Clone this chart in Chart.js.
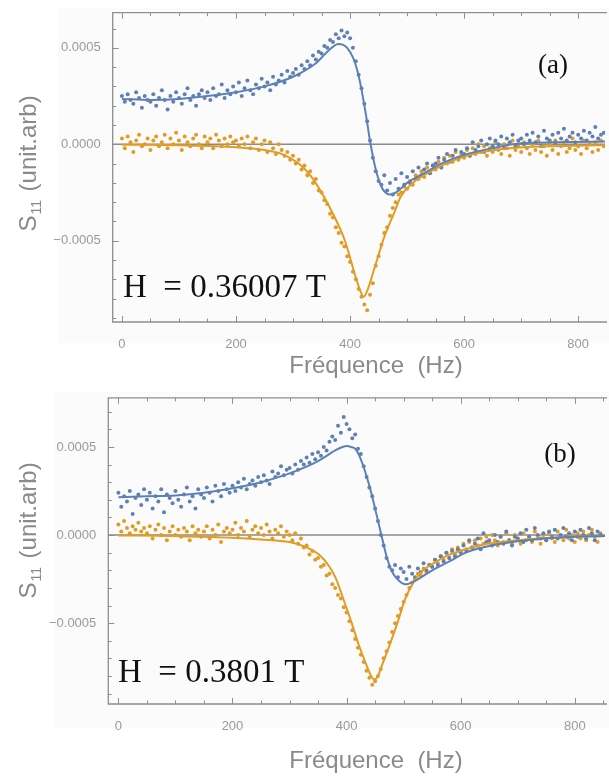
<!DOCTYPE html>
<html>
<head>
<meta charset="utf-8">
<script src="https://cdn.jsdelivr.net/npm/chart.js@4"></script>
<style>
  body { margin: 0; background: #fff; width: 609px; height: 778px; position: relative; overflow: hidden; }
  .box { position: absolute; background: #fbfbfb; }
  .wrap { position: absolute; left: 0; width: 609px; }
</style>
</head>
<body>
<div class="box" style="left:58px;top:8px;width:551px;height:335px"></div>
<div class="box" style="left:54px;top:392px;width:555px;height:336px"></div>
<div class="wrap" style="top:0;height:390px"><canvas id="chartA"></canvas></div>
<div class="wrap" style="top:386px;height:392px"><canvas id="chartB"></canvas></div>
<script>
// S11 values are written in units of 1e-4
const UNIT = 1e-4;

// frequency sweep (Hz) shared by the measured points
const freq = [
  0,5,10,15,20,25,30,35,40,45, 50,55,60,65,70,75,80,85,90,95,
  100,105,110,115,120,125,130,135,140,145, 150,155,160,165,170,175,180,185,190,195,
  200,205,210,215,220,225,230,235,240,245, 250,255,260,265,270,275,280,285,290,295,
  300,305,310,315,320,325,330,335,340,345, 350,355,360,365,370,375,380,385,390,395,
  400,405,410,415,420,425,430,435,440,445, 450,455,460,465,470,475,480,485,490,495,
  500,505,510,515,520,525,530,535,540,545, 550,555,560,565,570,575,580,585,590,595,
  600,605,610,615,620,625,630,635,640,645, 650,655,660,665,670,675,680,685,690,695,
  700,705,710,715,720,725,730,735,740,745, 750,755,760,765,770,775,780,785,790,795,
  800,805,810,815,820,825,830,835,840,845
];

// (a) H = 0.36007 T, measured
const blueA = [
  2.5,2.2,2.6,2.3,2.1,2.7,2.4,1.9,2.5,2.3, 2.2,2.6,2.0,2.4,2.8,2.3,1.8,2.5,2.2,2.7,
  2.4,2.1,2.6,2.9,2.3,2.5,2.0,2.6,2.8,2.4, 2.7,2.3,2.9,2.5,2.6,3.1,2.4,2.8,2.6,3.0,
  2.7,3.2,2.5,2.9,3.3,2.8,2.6,3.1,2.9,3.4, 3.0,3.2,2.8,3.5,3.1,3.3,3.6,3.2,3.8,3.5,
  3.7,3.9,3.6,4.1,3.9,4.3,4.1,4.6,4.4,4.8, 4.7,5.1,5.0,5.4,5.3,5.7,5.5,5.9,5.6,5.8,
  5.5,5.0,4.3,3.6,2.9,2.1,1.2,0.2,-0.7,-1.4, -1.9,-2.1,-1.6,-2.4,-2.0,-2.6,-1.8,-2.3,-1.5,-2.1,
  -1.7,-2.0,-1.4,-1.8,-1.2,-1.6,-1.3,-1.0,-1.5,-1.1, -1.0,-0.7,-1.2,-0.8,-0.5,-0.9,-0.6,-0.3,-0.7,-0.4,
  -0.5,-0.2,-0.6,0.1,-0.3,-0.1,0.2,-0.4,0.0,0.3, -0.1,0.2,0.0,0.4,-0.2,0.3,0.1,0.5,-0.1,0.2,
  0.3,0.0,0.5,0.2,0.6,0.1,0.4,-0.1,0.7,0.3, 0.2,0.5,0.1,0.6,0.3,0.8,0.2,0.4,0.6,0.1,
  0.5,0.3,0.7,0.2,0.6,0.4,0.9,0.3,0.5,0.6
];
const orangeA = [
  0.3,-0.2,0.4,0.1,-0.4,0.2,0.5,-0.1,0.0,0.3, -0.3,0.2,0.4,-0.1,0.1,0.5,-0.2,0.3,0.0,0.6,
  0.2,-0.3,0.4,0.1,-0.1,0.3,0.5,0.0,-0.2,0.4, 0.1,0.3,-0.2,0.5,0.2,-0.1,0.3,0.0,0.4,0.1,
  0.2,-0.1,0.3,0.0,0.4,-0.2,0.1,0.3,-0.3,0.0, 0.2,-0.4,0.1,-0.2,-0.5,0.0,-0.3,-0.6,-0.4,-0.8,
  -0.6,-1.0,-0.8,-1.3,-1.1,-1.6,-1.4,-2.0,-1.8,-2.4, -2.5,-2.9,-3.1,-3.6,-3.8,-4.3,-4.6,-5.1,-5.3,-5.8,
  -6.1,-6.6,-7.0,-7.5,-7.9,-8.3,-8.6,-7.8,-7.2,-6.3, -5.8,-5.2,-4.6,-4.3,-3.7,-3.3,-3.0,-2.6,-2.5,-2.2,
  -2.3,-1.9,-2.1,-1.6,-1.8,-1.4,-1.7,-1.2,-1.5,-1.1, -1.3,-0.9,-1.2,-0.7,-1.0,-0.6,-0.9,-0.4,-0.8,-0.5,
  -0.7,-0.3,-0.6,-0.2,-0.5,0.0,-0.4,-0.1,-0.6,-0.2, -0.4,0.1,-0.3,-0.5,0.0,-0.2,-0.6,0.2,-0.3,-0.1,
  -0.4,0.1,-0.2,-0.5,0.0,-0.3,0.2,-0.4,-0.1,-0.6, 0.0,-0.3,0.2,-0.5,-0.1,0.1,-0.4,-0.2,0.3,-0.3,
  -0.1,-0.5,0.2,-0.2,0.0,-0.4,0.1,-0.3,0.2,-0.1
];
// (a) fitted curves
const blueFitFreqA = [0,50,100,150,200,250,300,340,360,372,379,388,395,405,412,419,428,436,445,455,462,469,477,485,500,530,560,600,650,700,760,847];
const blueFitA     = [2.35,2.3,2.35,2.5,2.7,3.0,3.5,4.2,4.8,5.1,5.2,5.15,5.0,4.5,3.9,3.0,1.5,0,-1.3,-2.2,-2.5,-2.6,-2.55,-2.4,-2.0,-1.5,-1.0,-0.55,-0.2,0.05,0.1,0.15];
const orangeFitFreqA = [0,100,200,250,280,310,330,350,370,391,408,418,424,430,443,460,478,489,510,536,580,623,680,750,847];
const orangeFitA     = [-0.02,-0.05,-0.15,-0.3,-0.5,-1.0,-1.6,-2.5,-3.6,-5.0,-6.7,-7.6,-7.9,-7.6,-6.4,-4.8,-3.5,-2.7,-2.0,-1.5,-0.85,-0.45,-0.2,-0.1,-0.04];

// (b) H = 0.3801 T, measured
const blueB = [
  2.4,1.6,2.2,1.9,2.5,1.2,2.1,2.3,1.7,2.6, 2.0,2.4,1.5,2.2,1.9,2.6,1.3,2.3,2.1,1.8,
  2.5,2.0,1.6,2.3,2.7,1.9,2.2,1.5,2.6,2.3, 2.1,2.7,2.4,1.9,2.8,2.5,2.2,2.9,2.6,2.4,
  2.8,2.5,3.0,2.7,3.2,2.6,2.9,3.1,2.8,3.3, 3.0,3.4,3.1,2.9,3.6,3.3,3.5,3.9,3.4,3.7,
  3.8,3.5,4.0,3.7,4.2,4.0,4.4,4.1,4.6,4.3, 4.7,4.5,5.0,4.8,5.3,5.6,5.4,6.2,5.8,6.7,
  6.3,6.0,5.5,5.7,4.9,4.6,3.9,3.3,2.7,2.2, 1.5,0.8,0.0,-0.6,-1.3,-1.8,-2.0,-1.7,-2.4,-1.9,
  -2.1,-2.5,-1.8,-2.2,-2.4,-1.9,-2.1,-1.6,-2.0,-1.7, -1.8,-1.4,-1.7,-1.2,-1.5,-1.0,-1.3,-0.9,-1.2,-0.8,
  -1.0,-0.6,-0.9,-0.3,-0.7,-0.5,-0.2,-0.8,0.1,-0.4, -0.3,-0.6,0.0,-0.4,-0.1,-0.5,0.2,-0.3,-0.6,-0.1,
  -0.2,0.1,-0.4,0.3,-0.1,-0.3,0.4,0.0,-0.2,0.1, -0.3,0.2,-0.1,0.3,-0.2,0.0,0.4,-0.1,0.1,-0.3,
  0.2,-0.1,0.3,0.0,-0.2,0.4,0.1,-0.3,0.2,0.0
];
const orangeB = [
  0.6,0.2,0.8,0.4,0.1,0.5,0.3,0.7,0.2,0.4, 0.1,0.5,-0.2,0.3,0.6,0.0,0.4,-0.3,0.2,0.5,
  0.0,0.3,-0.1,0.4,0.2,-0.3,0.5,0.1,0.3,-0.1, 0.2,0.5,-0.2,0.3,0.0,0.6,-0.4,0.2,0.4,0.1,
  0.3,0.7,0.0,0.4,0.2,0.8,-0.1,0.3,0.5,0.1, 0.4,0.0,0.6,0.2,-0.2,0.3,0.1,0.5,-0.1,0.2,
  0.0,-0.3,0.1,-0.5,-0.2,-0.7,-0.6,-1.1,-0.9,-1.4, -1.3,-1.8,-1.7,-2.3,-2.2,-2.8,-3.0,-3.4,-3.6,-4.1,
  -4.4,-4.9,-5.4,-5.9,-6.4,-6.8,-7.2,-7.7,-8.1,-8.5, -8.3,-8.0,-7.6,-7.0,-6.6,-6.1,-5.5,-5.0,-4.6,-4.2,
  -3.8,-3.4,-3.0,-2.7,-2.5,-2.2,-2.3,-1.9,-2.1,-1.7, -1.8,-1.4,-1.6,-1.2,-1.4,-1.0,-1.3,-0.8,-1.1,-0.7,
  -0.9,-0.5,-0.8,-0.4,-0.7,-0.3,-0.6,-0.2,-0.5,-0.1, -0.4,0.0,-0.3,-0.6,-0.1,-0.4,0.1,-0.3,-0.5,0.0,
  -0.2,-0.5,0.1,-0.3,-0.1,-0.4,0.2,-0.2,-0.5,0.0, -0.3,0.1,-0.2,-0.4,0.2,-0.1,-0.3,0.3,-0.2,0.0,
  -0.4,0.1,-0.2,0.2,-0.3,0.0,0.3,-0.1,-0.4,0.1
];
// (b) fitted curves
const blueFitFreqB = [0,50,100,150,200,250,300,350,380,393,400,408,415,425,440,450,461,470,480,492,503,520,545,580,612,660,715,780,853];
const blueFitB     = [2.15,2.2,2.25,2.4,2.65,3.0,3.5,4.2,4.8,5.0,5.05,5.0,4.9,4.3,2.8,1.5,0,-1.2,-2.1,-2.6,-2.8,-2.6,-2.1,-1.5,-0.95,-0.55,-0.3,-0.12,-0.05];
const orangeFitFreqB = [0,100,200,250,300,330,353,370,381,394,408,421,435,443,449,455,462,476,490,503,517,531,555,578,610,647,700,749,800,853];
const orangeFitB     = [-0.02,-0.06,-0.15,-0.25,-0.4,-0.7,-1.15,-1.8,-2.45,-3.6,-4.9,-6.2,-7.4,-8.0,-8.2,-8.0,-7.4,-6.2,-4.9,-3.6,-2.7,-2.1,-1.55,-1.14,-0.8,-0.5,-0.3,-0.17,-0.1,-0.05];

// tick values
const xMajorTicks = [0, 200, 400, 600, 800];
const xMinorTicks = [50, 100, 150, 250, 300, 350, 450, 500, 550, 650, 700, 750, 850];
const yMajorTicks = [-0.0005, 0, 0.0005];
const yMinorTicks = [-0.0009, -0.0008, -0.0007, -0.0006, -0.0004, -0.0003, -0.0002, -0.0001,
                     0.0001, 0.0002, 0.0003, 0.0004, 0.0006, 0.0007];

const BLUE = '#5e81b5';
const ORANGE = '#e19c24';
const AXIS_GRAY = '#8e8e8e';
const LABEL_GRAY = '#8a8a8a';

function pts(xs, ys) {
  return xs.map((x, i) => ({ x: x, y: ys[i] * UNIT }));
}

function fmtY(v) {
  if (Math.abs(v) < 1e-12) return '0.0000';
  return (v < 0 ? '\u2212' : '') + Math.abs(v).toFixed(4);
}

// frame, inward ticks, zero axis and the panel texts
const panelDeco = {
  id: 'panelDeco',
  beforeDatasetsDraw(chart) {
    const ctx = chart.ctx, ca = chart.chartArea;
    const y0 = chart.scales.y.getPixelForValue(0);
    ctx.save();
    ctx.strokeStyle = '#8a8a8a';
    ctx.lineWidth = 1.6;
    ctx.beginPath();
    ctx.moveTo(ca.left, y0);
    ctx.lineTo(ca.right, y0);
    ctx.stroke();
    ctx.restore();
  },
  afterDraw(chart, args, opts) {
    const ctx = chart.ctx, ca = chart.chartArea;
    const xs = chart.scales.x, ys = chart.scales.y;
    ctx.save();
    ctx.strokeStyle = AXIS_GRAY;
    ctx.lineWidth = 1.3;
    ctx.beginPath();
    ctx.moveTo(ca.right + 2, ca.top);
    ctx.lineTo(ca.left, ca.top);
    ctx.lineTo(ca.left, ca.bottom);
    ctx.lineTo(ca.right + 2, ca.bottom);
    ctx.stroke();

    ctx.lineWidth = 1;
    const xTick = (v, len) => {
      if (v < xs.min || v > xs.max) return;
      const px = Math.round(xs.getPixelForValue(v)) + 0.5;
      ctx.beginPath();
      ctx.moveTo(px, ca.bottom); ctx.lineTo(px, ca.bottom - len);
      ctx.moveTo(px, ca.top); ctx.lineTo(px, ca.top + len);
      ctx.stroke();
    };
    const yTick = (v, len) => {
      if (v < ys.min || v > ys.max) return;
      const py = Math.round(ys.getPixelForValue(v)) + 0.5;
      ctx.beginPath();
      ctx.moveTo(ca.left, py); ctx.lineTo(ca.left + len, py);
      ctx.stroke();
    };
    xMajorTicks.forEach(v => xTick(v, 6));
    xMinorTicks.forEach(v => xTick(v, 3.5));
    yMajorTicks.forEach(v => yTick(v, 6));
    yMinorTicks.forEach(v => yTick(v, 3.5));

    // axis titles
    ctx.fillStyle = LABEL_GRAY;
    ctx.textBaseline = 'middle';
    ctx.textAlign = 'center';
    ctx.font = '24px "Liberation Sans", Arial, sans-serif';
    ctx.fillText('Fr\u00e9quence  (Hz)', 376, opts.xTitleY);

    ctx.save();
    ctx.translate(27, opts.yTitleY);
    ctx.rotate(-Math.PI / 2);
    ctx.textAlign = 'left';
    ctx.textBaseline = 'alphabetic';
    const big = '24px "Liberation Sans", Arial, sans-serif';
    const small = '14px "Liberation Sans", Arial, sans-serif';
    ctx.font = big;
    const wS = ctx.measureText('S').width;
    const wRest = ctx.measureText(' (unit.arb)').width;
    ctx.font = small;
    const wSub = ctx.measureText('11').width + 2;
    let x = -(wS + wSub + wRest) / 2;
    ctx.font = big;
    ctx.fillText('S', x, 9);
    x += wS + 1;
    ctx.font = small;
    ctx.fillText('11', x, 14);
    x += wSub;
    ctx.font = big;
    ctx.fillText(' (unit.arb)', x, 9);
    ctx.restore();

    // panel letter and field annotation
    ctx.fillStyle = '#111';
    ctx.textAlign = 'center';
    ctx.textBaseline = 'middle';
    ctx.font = '27px "Liberation Serif", "Times New Roman", serif';
    ctx.fillText(opts.letter, opts.letterX, opts.letterY);
    ctx.textAlign = 'left';
    ctx.textBaseline = 'alphabetic';
    ctx.font = '33px "Liberation Serif", "Times New Roman", serif';
    ctx.fillText(opts.field, opts.fieldX, opts.fieldY);
    ctx.restore();
  }
};

function makePanel(canvasId, p) {
  return new Chart(document.getElementById(canvasId), {
    type: 'scatter',
    data: {
      datasets: [
        { data: pts(p.blueFitFreq, p.blueFit), showLine: true, pointRadius: 0, borderColor: BLUE,
          borderWidth: 2, cubicInterpolationMode: 'monotone' },
        { data: pts(p.orangeFitFreq, p.orangeFit), showLine: true, pointRadius: 0, borderColor: ORANGE,
          borderWidth: 2, cubicInterpolationMode: 'monotone' },
        { data: pts(freq, p.blue), pointRadius: 2, pointBorderWidth: 0, backgroundColor: BLUE },
        { data: pts(freq, p.orange), pointRadius: 2, pointBorderWidth: 0, backgroundColor: ORANGE }
      ]
    },
    options: {
      responsive: true,
      maintainAspectRatio: false,
      animation: false,
      layout: { padding: { top: p.padTop, left: 0, right: 0, bottom: 0 } },
      plugins: {
        legend: { display: false },
        tooltip: { enabled: false },
        panelDeco: p.deco
      },
      scales: {
        x: {
          type: 'linear', min: p.xMin, max: p.xMax,
          grid: { display: false }, border: { display: false },
          ticks: { color: '#9a9a9a', font: { family: 'Liberation Sans', size: 13 }, padding: 7,
                   autoSkip: false, maxRotation: 0, callback: v => String(v) },
          afterBuildTicks: s => { s.ticks = xMajorTicks.map(v => ({ value: v })); },
          afterFit: s => { s.height = p.xAxisHeight; }
        },
        y: {
          type: 'linear', min: p.yMin, max: p.yMax,
          grid: { display: false }, border: { display: false },
          ticks: { color: '#9a9a9a', font: { family: 'Liberation Sans', size: 13 }, padding: 4,
                   autoSkip: false, callback: v => fmtY(v) },
          afterBuildTicks: s => { s.ticks = yMajorTicks.map(v => ({ value: v })); },
          afterFit: s => { s.width = p.yAxisWidth; }
        }
      }
    },
    plugins: [panelDeco]
  });
}

makePanel('chartA', {
  blue: blueA, orange: orangeA,
  blueFitFreq: blueFitFreqA, blueFit: blueFitA,
  orangeFitFreq: orangeFitFreqA, orangeFit: orangeFitA,
  xMin: -16.2, xMax: 847, yMin: -0.000921, yMax: 0.000682,
  padTop: 12.7, xAxisHeight: 68, yAxisWidth: 112.7,
  deco: { letter: '(a)', letterX: 553, letterY: 66, field: 'H  = 0.36007 T', fieldX: 123, fieldY: 297,
          xTitleY: 366, yTitleY: 164 }
});

makePanel('chartB', {
  blue: blueB, orange: orangeB,
  blueFitFreq: blueFitFreqB, blueFit: blueFitB,
  orangeFitFreq: orangeFitFreqB, orangeFit: orangeFitB,
  xMin: -17.7, xMax: 853, yMin: -0.000959, yMax: 0.000779,
  padTop: 8, xAxisHeight: 74, yAxisWidth: 108.3,
  deco: { letter: '(b)', letterX: 560, letterY: 69, field: 'H  = 0.3801 T', fieldX: 118, fieldY: 296,
          xTitleY: 375, yTitleY: 145 }
});
</script>
</body>
</html>
